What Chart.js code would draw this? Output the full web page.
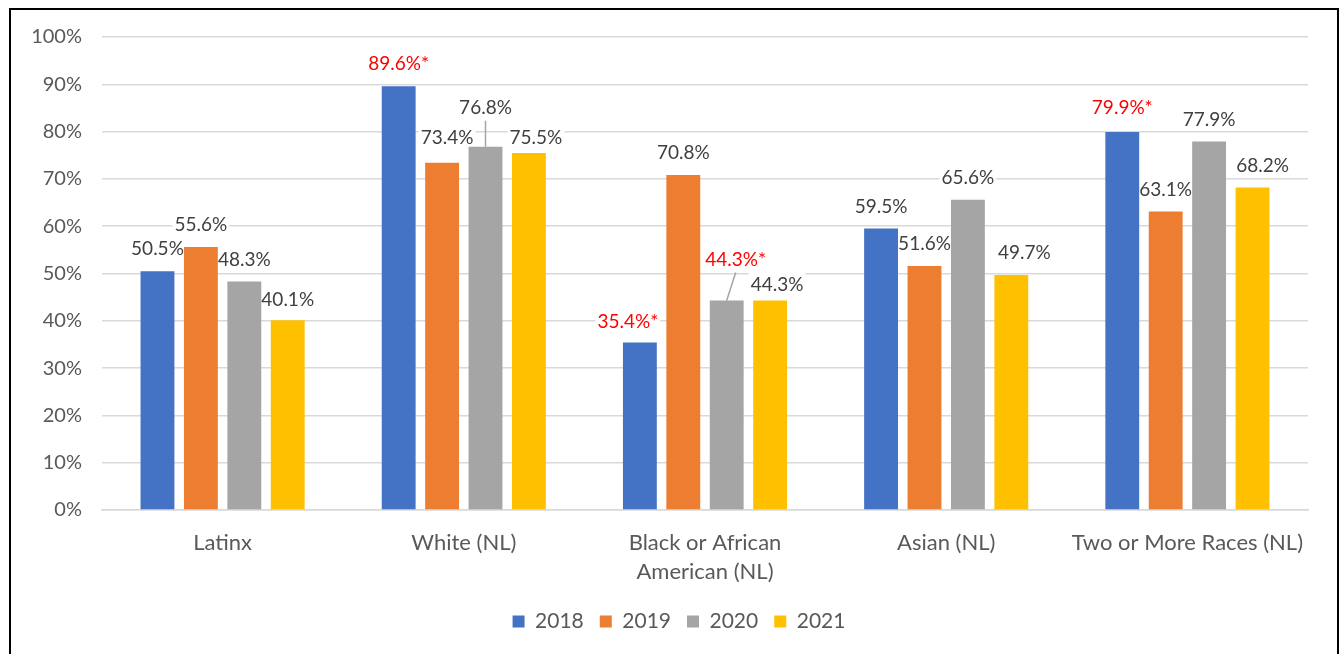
<!DOCTYPE html>
<html>
<head>
<meta charset="utf-8">
<script src="https://cdn.jsdelivr.net/npm/chart.js@4.4.1/dist/chart.umd.min.js"></script>
<style>
  html, body { margin: 0; padding: 0; background: #fff; }
  #frame { position: absolute; left: 9px; top: 8px; width: 1326px; height: 660px; border: 2px solid #000; }
  #chart { position: absolute; left: 0; top: 0; }
</style>
</head>
<body>
<div id="frame"></div>
<canvas id="chart" width="1342" height="654"></canvas>
<script>
// categories and yearly values (percent)
const categories = ['Latinx', 'White (NL)', ['Black or African', 'American (NL)'], 'Asian (NL)', 'Two or More Races (NL)'];
const years = ['2018', '2019', '2020', '2021'];
const values2018 = [50.5, 89.6, 35.4, 59.5, 79.9];
const values2019 = [55.6, 73.4, 70.8, 51.6, 63.1];
const values2020 = [48.3, 76.8, 44.3, 65.6, 77.9];
const values2021 = [40.1, 75.5, 44.3, 49.7, 68.2];
// which values are flagged with an asterisk (shown red)
const flagged2018 = [false, true, true, false, true];
const flagged2019 = [false, false, false, false, false];
const flagged2020 = [false, false, true, false, false];
const flagged2021 = [false, false, false, false, false];
const yTicks = [0, 10, 20, 30, 40, 50, 60, 70, 80, 90, 100];

const colors = ['#4472C4', '#ED7D31', '#A5A5A5', '#FFC000'];
const FONT = 'Lato, "Open Sans", sans-serif';

// manual label nudges [dx, dy] and leader lines, as placed in the original
const labelNudge = [
  [[0, 0], [0, 0], [-12, 1], [0, 0], [0, -2]],
  [[0, 0], [5, -3], [0, 0], [0, 0], [0, 0]],
  [[0, 0], [0, -17], [9, -19], [0, 0], [0, 0]],
  [[0, 2], [7, 7], [7, 6], [13, 0], [10, 0]]
];
const leader = [
  [false, false, false, false, false],
  [false, false, false, false, false],
  [false, true, true, false, false],
  [false, false, false, false, false]
];

const allValues = [values2018, values2019, values2020, values2021];
const allFlags = [flagged2018, flagged2019, flagged2020, flagged2021];

function labelInfo(chart, di, i) {
  const bar = chart.getDatasetMeta(di).data[i];
  const flag = allFlags[di][i];
  return {
    bar: bar,
    flag: flag,
    text: chart.data.datasets[di].data[i].toFixed(1) + '%' + (flag ? '*' : ''),
    x: bar.x + labelNudge[di][i][0],
    y: bar.y - 23 + labelNudge[di][i][1]
  };
}

const barLabels = {
  id: 'barLabels',
  // legend sits a little right of centre in the original
  afterLayout(chart) {
    chart.legend.left += 25;
    chart.legend.right += 25;
  },
  // white boxes go under the bars but over the gridlines
  beforeDatasetsDraw(chart) {
    const ctx = chart.ctx;
    ctx.save();
    ctx.font = '19px ' + FONT;
    chart.data.datasets.forEach(function (ds, di) {
      ds.data.forEach(function (v, i) {
        const L = labelInfo(chart, di, i);
        const w = ctx.measureText(L.text).width + 4;
        ctx.fillStyle = '#fff';
        ctx.fillRect(L.x - w / 2, L.y - 12, w, 24);
      });
    });
    ctx.restore();
  },
  afterDatasetsDraw(chart) {
    const ctx = chart.ctx;
    ctx.save();
    ctx.font = '19px ' + FONT;
    ctx.textAlign = 'center';
    ctx.textBaseline = 'middle';
    chart.data.datasets.forEach(function (ds, di) {
      ds.data.forEach(function (v, i) {
        const L = labelInfo(chart, di, i);
        if (leader[di][i]) {
          ctx.strokeStyle = '#A5A5A5';
          ctx.lineWidth = 1.5;
          ctx.beginPath();
          ctx.moveTo(L.x, L.y + 14);
          ctx.lineTo(L.bar.x, L.bar.y);
          ctx.stroke();
        }
        ctx.fillStyle = L.flag ? '#FF0000' : '#404040';
        ctx.fillText(L.text, L.x, L.y + 1);
      });
    });
    ctx.restore();
  }
};

new Chart(document.getElementById('chart'), {
  type: 'bar',
  data: {
    labels: categories,
    datasets: years.map(function (yr, k) {
      return { label: yr, data: allValues[k], backgroundColor: colors[k], borderWidth: 0 };
    })
  },
  options: {
    responsive: false,
    animation: false,
    devicePixelRatio: 1,
    categoryPercentage: 0.72,
    barPercentage: 0.78,
    layout: { padding: { left: 0, right: 34, top: 37, bottom: 12 } },
    plugins: {
      tooltip: { enabled: false },
      legend: {
        position: 'bottom',
        labels: {
          boxWidth: 12, boxHeight: 12, padding: 16,
          color: '#595959',
          font: { family: FONT, size: 21 }
        }
      }
    },
    scales: {
      x: {
        grid: { display: false, drawTicks: false },
        border: { display: true, color: '#D9D9D9', width: 1.5 },
        ticks: {
          color: '#595959', padding: 18, maxRotation: 0, autoSkip: false,
          font: { family: FONT, size: 22, lineHeight: 1.33 }
        },
        afterFit: function (scale) { scale.height = 85; }
      },
      y: {
        min: 0, max: 100,
        afterBuildTicks: function (scale) { scale.ticks = yTicks.map(function (v) { return { value: v }; }); },
        grid: { color: '#D9D9D9', lineWidth: 1.5, drawTicks: false },
        border: { display: false },
        ticks: {
          color: '#595959', padding: 20,
          font: { family: FONT, size: 20 },
          callback: function (v) { return v + '%'; }
        },
        afterFit: function (scale) { scale.width = 102; }
      }
    }
  },
  plugins: [barLabels]
});
</script>
</body>
</html>
